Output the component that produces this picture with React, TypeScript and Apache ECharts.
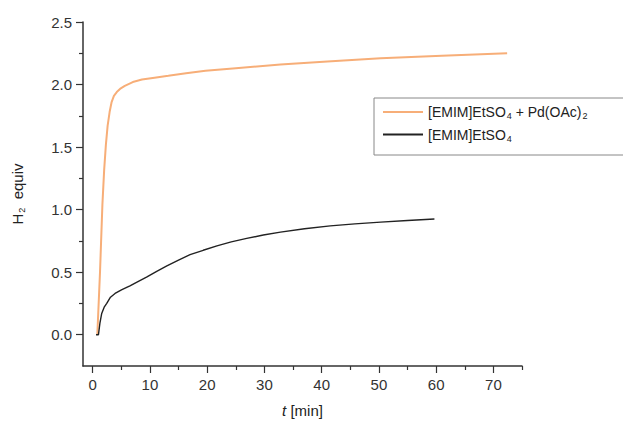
import React, { useEffect, useRef } from "react";
import * as echarts from "echarts";

const seriesNames = ["[EMIM]EtSO4 + Pd(OAc)2", "[EMIM]EtSO4"];
const legendLabels = ["[EMIM]EtSO{sub|4} + Pd(OAc){sub|2}", "[EMIM]EtSO{sub|4}"];

const pdData: [number, number][] = [
  [0.8, 0], [1.28, 0.51], [1.69, 1.04], [2.0, 1.32], [2.3, 1.52], [2.6, 1.67], [2.95, 1.78],
  [3.3, 1.86], [3.7, 1.91], [4.2, 1.94], [4.9, 1.97], [5.6, 1.99], [7.0, 2.02], [8.6, 2.04],
  [10.8, 2.055], [13.2, 2.07], [16.3, 2.09], [19.7, 2.11], [25.0, 2.13], [32.8, 2.16],
  [41.0, 2.185], [50.3, 2.21], [61.0, 2.23], [72.4, 2.25],
];
const ilData: [number, number][] = [
  [0.58, 0], [1.0, 0], [1.25, 0.09], [1.57, 0.17], [2.0, 0.22], [2.45, 0.25], [3.1, 0.3],
  [3.9, 0.33], [5.1, 0.36], [6.5, 0.39], [7.9, 0.425], [9.4, 0.46], [11.1, 0.505],
  [12.95, 0.55], [14.9, 0.595], [17.0, 0.64], [19.3, 0.675], [21.7, 0.71], [24.2, 0.742],
  [26.9, 0.77], [29.8, 0.797], [32.8, 0.82], [37.0, 0.847], [41.5, 0.87], [45.8, 0.886],
  [50.3, 0.9], [55.0, 0.913], [59.7, 0.925],
];

const xMajor = [0, 10, 20, 30, 40, 50, 60, 70];
const xMinor = [5, 15, 25, 35, 45, 55, 65, 75];
const yMajor = [0, 0.5, 1.0, 1.5, 2.0, 2.5];
const yMinor = [0.25, 0.75, 1.25, 1.75, 2.25];

const FONT = "'Liberation Sans', Arial, sans-serif";
const AX = "#333";

export default function App() {
  const ref = useRef<HTMLDivElement>(null);
  useEffect(() => {
    const chart = echarts.init(ref.current!, null, { renderer: "svg" });
    const axisBase = {
      type: "value" as const,
      splitLine: { show: false },
    };
    chart.setOption({
      animation: false,
      backgroundColor: "#fff",
      textStyle: { fontFamily: FONT },
      grid: { left: 83, top: 22, right: 101, bottom: 53.5, containLabel: false },
      legend: {
        left: 374,
        top: 98,
        orient: "vertical",
        padding: [7, 80, 12, 8],
        itemGap: 7,
        itemWidth: 40,
        itemHeight: 14,
        borderColor: "#888",
        borderWidth: 1,
        borderRadius: 0,
        backgroundColor: "#fff",
        itemStyle: { opacity: 0 },
        data: seriesNames,
        formatter: (name: string) => legendLabels[seriesNames.indexOf(name)],
        textStyle: {
          fontFamily: FONT,
          fontSize: 14,
          color: "#222",
          rich: {
            sub: { fontFamily: FONT, fontSize: 9, color: "#222", verticalAlign: "bottom", padding: [8, 0, 0, 1] },
          },
        },
      },
      xAxis: [
        {
          ...axisBase,
          min: -1.7,
          max: 75,
          position: "bottom",
          name: "{i|t} [min]",
          nameLocation: "middle",
          nameGap: 37,
          nameTextStyle: {
            fontFamily: FONT,
            fontSize: 15,
            color: "#222",
            rich: { i: { fontFamily: FONT, fontSize: 15, fontStyle: "italic", color: "#222" } },
          },
          axisLine: { show: true, onZero: false, lineStyle: { color: AX, width: 1.5 } },
          axisTick: { show: true, customValues: xMajor, length: 7, lineStyle: { color: AX, width: 1.2 } },
          axisLabel: { customValues: xMajor, margin: 11, fontSize: 15, color: "#333", fontFamily: FONT },
        },
        {
          ...axisBase,
          min: -1.7,
          max: 75,
          position: "bottom",
          axisLine: { show: false, onZero: false },
          axisTick: { show: true, customValues: xMinor, length: 4, lineStyle: { color: AX, width: 1.2 } },
          axisLabel: { show: false },
        },
      ],
      yAxis: [
        {
          ...axisBase,
          min: -0.25,
          max: 2.5,
          position: "left",
          name: "{a|H}{s|2}{a|  equiv}",
          nameLocation: "middle",
          nameRotate: 90,
          nameGap: 57,
          nameTextStyle: {
            fontFamily: FONT,
            fontSize: 15,
            color: "#222",
            rich: {
              a: { fontFamily: FONT, fontSize: 15, color: "#222" },
              s: { fontFamily: FONT, fontSize: 9, color: "#222", verticalAlign: "bottom", padding: [8, 0, 0, 1] },
            },
          },
          axisLine: { show: true, onZero: false, lineStyle: { color: AX, width: 1.5 } },
          axisTick: { show: true, customValues: yMajor, length: 7, lineStyle: { color: AX, width: 1.2 } },
          axisLabel: {
            customValues: yMajor,
            margin: 11,
            fontSize: 15,
            color: "#333",
            fontFamily: FONT,
            formatter: (v: number) => v.toFixed(1),
          },
        },
        {
          ...axisBase,
          min: -0.25,
          max: 2.5,
          position: "left",
          axisLine: { show: false, onZero: false },
          axisTick: { show: true, customValues: yMinor, length: 4, lineStyle: { color: AX, width: 1.2 } },
          axisLabel: { show: false },
        },
      ],
      series: [
        {
          name: seriesNames[0],
          type: "line",
          data: pdData,
          symbol: "none",
          smooth: false,
          color: "#F7AE78",
          lineStyle: { color: "#F7AE78", width: 2 },
        },
        {
          name: seriesNames[1],
          type: "line",
          data: ilData,
          symbol: "none",
          smooth: false,
          color: "#222",
          lineStyle: { color: "#222", width: 1.4 },
        },
      ],
    });
    return () => chart.dispose();
  }, []);
  return <div ref={ref} style={{ width: 623, height: 423, position: "absolute", left: 0, top: 0 }} />;
}
